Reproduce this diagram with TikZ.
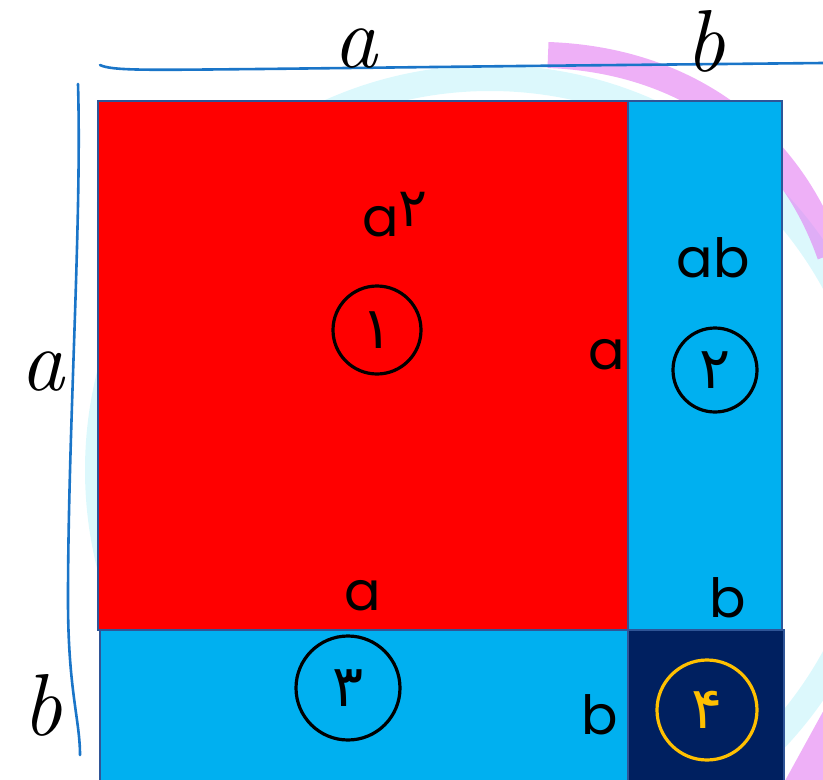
\documentclass[tikz,border=0pt]{standalone}
\usepackage{fontspec}
\newfontfamily\handfont{Poppins}
\newfontfamily\farsifont[Script=Arabic]{DejaVu Sans}
\usepackage{xcolor}
\definecolor{cRed}{HTML}{FF0000}
\definecolor{cSky}{HTML}{00B0F0}
\definecolor{cNavy}{HTML}{002060}
\definecolor{cEdge}{HTML}{2F5597}
\definecolor{cPen}{HTML}{1A75C8}
\definecolor{cGold}{HTML}{FFC000}
\definecolor{cCyanHatch}{HTML}{BFF3FA}
\definecolor{cPinkHatch}{HTML}{E27CF2}
\usetikzlibrary{positioning,calc}
\tikzset{
  part-box/.style={draw=cEdge,line width=2pt},
  side-label/.style={font=\itshape\fontsize{88}{88}\selectfont,inner sep=0pt},
  hand-label/.style={font=\handfont\fontsize{54}{54}\selectfont,inner sep=0pt},
  hand-ring/.style={circle,draw=black,line width=3.2pt,inner sep=0pt,
    font=\farsifont\fontsize{58}{58}\selectfont},
  pen-line/.style={draw=cPen,line width=2.6pt,line cap=round},
  hatch-cyan/.style={draw=cCyanHatch,line width=26pt,opacity=0.55},
  hatch-pink/.style={draw=cPinkHatch,line width=26pt,opacity=0.6},
}

\begin{document}
\begin{tikzpicture}[x=1pt,y=-1pt]
  \useasboundingbox (0,0) rectangle (823,780);
  % hatching behind the square
  \draw[hatch-cyan] (490,470) circle (392);
  \draw[hatch-pink] (548,55) .. controls (690,60) and (790,140) .. (830,255);
  \draw[hatch-pink,line width=36pt] (795,800) -- (840,718);

  % the four parts
  \coordinate (o)  at (98,101);
  \coordinate (m)  at (628,630);
  \draw[part-box,fill=cRed]  (o) rectangle (m);
  \draw[part-box,fill=cSky]  (628,101) rectangle (782,630);
  \draw[part-box,fill=cSky]  (100,630) rectangle (628,790);
  \draw[part-box,fill=cNavy] (m) rectangle (784,790);

  % sides
  \draw[pen-line] (100,65) .. controls (112,71) and (150,70) .. (260,69)
    -- (520,66) -- (823,63);
  \draw[pen-line] (78,84) .. controls (82,220) and (68,430) .. (68,600)
    .. controls (68,690) and (80,720) .. (80,755);
  \node[side-label] (top-a)  at (355,49)  {a};
  \node[side-label] (top-b)  at (705,41)  {b};
  \node[side-label] (left-a) at (42,372)  {a};
  \node[side-label] (left-b) at (42,705)  {b};

  % areas
  \node[hand-label] (sq-a)   at (395,215) {a\raisebox{10pt}{\farsifont ۲}};
  \node[hand-ring,minimum size=88pt]  (n1) at (377,330) {۱};
  \node[hand-label] (rect-ab) at (713,258) {ab};
  \node[hand-ring,minimum size=84pt]  (n2) at (715,370) {۲};
  \node[hand-ring,minimum size=104pt] (n3) at (348,688) {۳};
  \node[hand-ring,minimum size=100pt,draw=cGold,text=cGold] (n4) at (707,710) {۴};

  % edge lengths
  \node[hand-label] (len-a1) at (607,355) {a};
  \node[hand-label] (len-a2) at (363,596) {a};
  \node[hand-label] (len-b1) at (728,598) {b};
  \node[hand-label] (len-b2) at (600,715) {b};
\end{tikzpicture}
\end{document}
